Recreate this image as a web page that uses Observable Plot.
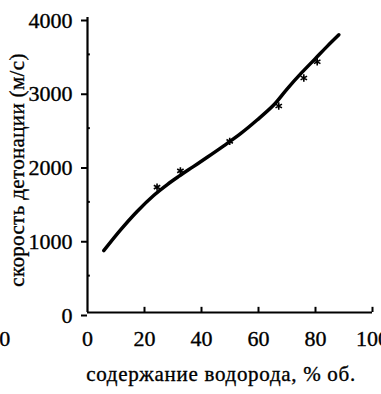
<!DOCTYPE html>
<html>
<head>
<meta charset="utf-8">
<script src="https://cdn.jsdelivr.net/npm/d3@7"></script>
<script src="https://cdn.jsdelivr.net/npm/@observablehq/plot@0.6"></script>
<style>
  html, body { margin: 0; padding: 0; background: #fff; }
  svg { display: block; }
  #chart svg text { stroke: #000; stroke-width: 0.35px; }
</style>
</head>
<body>
<div id="chart"></div>
<script>
// Fitted curve
const curveX = [5.7, 11.6, 17.4, 23.3, 28, 32, 37, 42, 47.8, 53.7, 59.5, 65.5, 70, 75, 80, 84, 88.2];
const curveY = [838, 1120, 1370, 1590, 1735, 1845, 1975, 2105, 2260, 2425, 2610, 2820, 3030, 3245, 3445, 3605, 3765];
// Experimental points
const pointX = [24.4, 32.6, 49.9, 67.1, 75.9, 80.6];
const pointY = [1700, 1920, 2320, 2800, 3180, 3400];
// Ticks
const xTicks = [0, 20, 40, 60, 80, 100];
const yTicks = [0, 1000, 2000, 3000, 4000];
const yMinor = [500, 1500, 2500, 3500];
const xTitle = "содержание водорода, % об.";
const yTitle = "скорость детонации (м/с)";

const curve = curveX.map((x, i) => ({x, y: curveY[i]}));
const points = pointX.map((x, i) => ({x, y: pointY[i]}));
const ff = "Liberation Serif";

const chart = Plot.plot({
  width: 381,
  height: 394,
  marginLeft: 87,
  marginRight: 9,
  marginTop: 17,
  marginBottom: 82,
  style: "font-family: 'Liberation Serif', serif; font-size: 20px; color: #000; background: #fff;",
  x: {domain: [0, 100]},
  y: {domain: [0, 4000]},
  marks: [
    Plot.axisX(xTicks, {tickSize: 0, tickPadding: 18, fontSize: 22, fontFamily: ff, label: null, tickFormat: d => String(d)}),
    Plot.axisY(yTicks, {tickSize: 6, tickPadding: 9, fontSize: 22, fontFamily: ff, dy: 3, label: null, strokeWidth: 2, tickFormat: d => String(d)}),
    Plot.ruleX(xTicks.slice(1), {y1: 0, y2: 70, stroke: "#000", strokeWidth: 2}),
    Plot.ruleY(yMinor, {x1: 0, x2: 1, stroke: "#000", strokeWidth: 2}),
    Plot.ruleX([0], {y1: 0, y2: 4000, stroke: "#000", strokeWidth: 2.2}),
    Plot.ruleY([0], {x1: 0, x2: 100, stroke: "#000", strokeWidth: 2.2}),
    Plot.line(curve, {x: "x", y: "y", curve: "catmull-rom", stroke: "#000", strokeWidth: 3.5}),
    Plot.dot(points, {x: "x", y: "y", symbol: "asterisk", r: 3.5, stroke: "#000", strokeWidth: 1.6}),
    Plot.text([xTitle], {frameAnchor: "bottom", textAnchor: "middle", dx: -9, dy: 68, fontSize: 21, fontFamily: ff, fill: "#000"}),
    Plot.text([yTitle], {frameAnchor: "left", textAnchor: "middle", rotate: -90, dx: -70, dy: 5, fontSize: 21, fontFamily: ff, fill: "#000"}),
    Plot.text(["0"], {x: [-29], y: [0], dy: 26, fontSize: 22, fontFamily: ff, fill: "#000", clip: false})
  ]
});
d3.select(chart).selectAll("text")
  .filter(function() { return this.textContent === xTitle; })
  .style("letter-spacing", "0.7px");
d3.select(chart).selectAll("text")
  .filter(function() { return this.textContent === yTitle; })
  .style("letter-spacing", "0.35px");
document.getElementById("chart").appendChild(chart);
</script>
</body>
</html>
